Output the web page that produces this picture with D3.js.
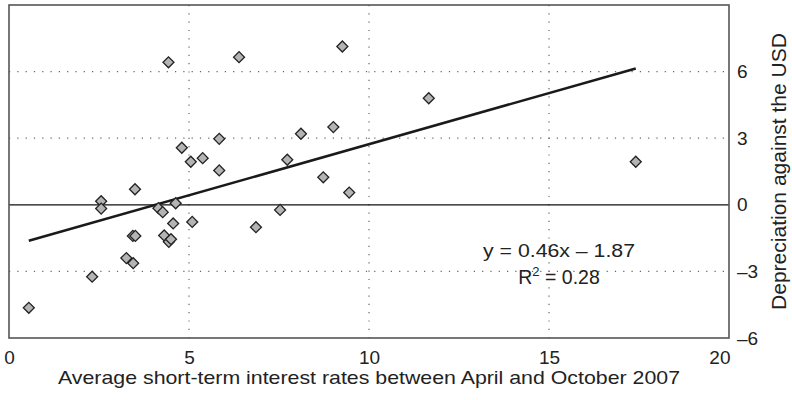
<!DOCTYPE html>
<html lang="en">
<head>
<meta charset="UTF-8">
<title>Depreciation against the USD vs short-term rates</title>
<script src="https://d3js.org/d3.v7.min.js"></script>
<style>
    body { margin: 0; background: #fff; }
    text { font-family: "Liberation Sans", Arial, sans-serif; fill: #222; }
</style>
</head>
<body>
<div id="chart"></div>
<script>
// Average short-term rate (x) and depreciation against the USD (y), one entry per country
const rates = [0.55, 2.31, 2.56, 2.56, 3.26, 3.45, 3.44, 3.51, 3.50, 4.15, 4.27, 4.31,
    4.44, 4.50, 4.43, 4.56, 4.63, 4.80, 5.05, 5.09, 5.38, 5.84, 5.84, 6.39,
    6.86, 7.53, 7.73, 8.11, 8.73, 9.01, 9.26, 9.45, 11.66, 17.41];
const depreciation = [-4.64, -3.24, 0.16, -0.17, -2.40, -2.63, -1.40, -1.40, 0.70, -0.15, -0.33, -1.38,
    -1.67, -1.55, 6.42, -0.84, 0.07, 2.57, 1.94, -0.77, 2.10, 2.97, 1.55, 6.65,
    -1.01, -0.23, 2.03, 3.20, 1.24, 3.50, 7.13, 0.55, 4.80, 1.94];

const xTicks = [0, 5, 10, 15, 20];
const yTicks = [-6, -3, 0, 3, 6];
const slope = 0.46;
const intercept = -1.87;
const rSquared = 0.28;

const width = 792;
const height = 400;
const plotLeft = 9, plotRight = 729, plotTop = 5, plotBottom = 338;

const x = d3.scaleLinear().domain([0, 20]).range([plotLeft, plotRight]);
const y = d3.scaleLinear().domain([-6, 9]).range([plotBottom, plotTop]);

const svg = d3.select("#chart")
    .append("svg")
    .attr("width", width)
    .attr("height", height);

// dotted grid
svg.append("g")
    .selectAll("line")
    .data(xTicks.filter(d => d > 0 && d < 20))
    .enter()
    .append("line")
    .attr("x1", d => x(d)).attr("x2", d => x(d))
    .attr("y1", plotTop).attr("y2", plotBottom)
    .attr("stroke", "#666")
    .attr("stroke-width", 1.2)
    .attr("stroke-dasharray", "1.2,7.1");

svg.append("g")
    .selectAll("line")
    .data(yTicks.filter(d => d !== 0 && d > -6))
    .enter()
    .append("line")
    .attr("x1", plotLeft).attr("x2", plotRight)
    .attr("y1", d => y(d)).attr("y2", d => y(d))
    .attr("stroke", "#666")
    .attr("stroke-width", 1.2)
    .attr("stroke-dasharray", "1.2,7.1");

// zero line
svg.append("line")
    .attr("x1", x(0)).attr("x2", x(20))
    .attr("y1", y(0)).attr("y2", y(0))
    .attr("stroke", "#111")
    .attr("stroke-width", 1.2);

// frame
svg.append("rect")
    .attr("x", plotLeft).attr("y", plotTop)
    .attr("width", plotRight - plotLeft).attr("height", plotBottom - plotTop)
    .attr("fill", "none")
    .attr("stroke", "#555")
    .attr("stroke-width", 1.6);

// axes (labels only)
const fmt = d => d < 0 ? "\u2013" + Math.abs(d) : String(d);

const xAxis = svg.append("g")
    .attr("transform", `translate(0,${plotBottom})`)
    .call(d3.axisBottom(x).tickValues(xTicks).tickSize(0).tickPadding(13).tickFormat(fmt));
xAxis.select(".domain").remove();
xAxis.selectAll("text")
    .attr("font-size", 19)
    .attr("fill", "#222")
    .style("font-family", "'Liberation Sans', Arial, sans-serif")
    .attr("text-anchor", d => d === 20 ? "end" : "middle")
    .attr("dx", d => d === 20 ? 1 : 0);

const yAxis = svg.append("g")
    .attr("transform", `translate(${plotRight},0)`)
    .call(d3.axisRight(y).tickValues(yTicks).tickSize(0).tickPadding(8).tickFormat(fmt));
yAxis.select(".domain").remove();
yAxis.selectAll("text")
    .attr("font-size", 19)
    .attr("fill", "#222")
    .style("font-family", "'Liberation Sans', Arial, sans-serif");

// axis titles
svg.append("text")
    .attr("x", (plotLeft + plotRight) / 2)
    .attr("y", 384)
    .attr("text-anchor", "middle")
    .attr("font-size", 18.5)
    .attr("textLength", 622)
    .attr("lengthAdjust", "spacingAndGlyphs")
    .text("Average short-term interest rates between April and October 2007");

svg.append("text")
    .attr("transform", `translate(786,${(plotTop + plotBottom) / 2}) rotate(-90)`)
    .attr("text-anchor", "middle")
    .attr("font-size", 20)
    .attr("textLength", 277)
    .attr("lengthAdjust", "spacingAndGlyphs")
    .text("Depreciation against the USD");

// trend line
const xr = d3.extent(rates);
svg.append("line")
    .attr("x1", x(xr[0])).attr("y1", y(slope * xr[0] + intercept))
    .attr("x2", x(xr[1])).attr("y2", y(slope * xr[1] + intercept))
    .attr("stroke", "#1a1a1a")
    .attr("stroke-width", 2.6);

// points
const diamond = d3.symbol().type(d3.symbolSquare).size(60);
svg.append("g")
    .selectAll("path")
    .data(rates.map((r, i) => [r, depreciation[i]]))
    .enter()
    .append("path")
    .attr("d", diamond)
    .attr("transform", d => `translate(${x(d[0])},${y(d[1])}) rotate(45)`)
    .attr("fill", "#b4b4b4")
    .attr("stroke", "#222")
    .attr("stroke-width", 1.3);

// equation
const eq = svg.append("g").attr("font-size", 18.5).attr("text-anchor", "middle");
eq.append("text")
    .attr("x", 559).attr("y", 257)
    .attr("textLength", 152)
    .attr("lengthAdjust", "spacingAndGlyphs")
    .text(`y = ${slope.toFixed(2)}x \u2013 ${Math.abs(intercept).toFixed(2)}`);
const r2 = eq.append("text")
    .attr("x", 559).attr("y", 284)
    .attr("font-size", 19.5);
r2.append("tspan").text("R");
r2.append("tspan").attr("font-size", 13).attr("dy", -8).text("2");
r2.append("tspan").attr("dy", 8).text(` = ${rSquared.toFixed(2)}`);
</script>
</body>
</html>
